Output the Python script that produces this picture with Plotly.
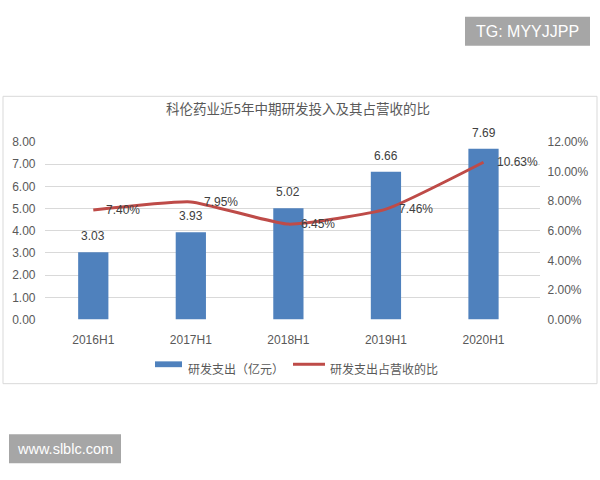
import plotly.graph_objects as go

categories = ["2016H1", "2017H1", "2018H1", "2019H1", "2020H1"]
rd_spend = [3.03, 3.93, 5.02, 6.66, 7.69]
rd_ratio = [7.40, 7.95, 6.45, 7.46, 10.63]
left_ticks = [0, 1, 2, 3, 4, 5, 6, 7, 8]
right_ticks = [0, 2, 4, 6, 8, 10, 12]

title_text = "科伦药业近5年中期研发投入及其占营收的比"
bar_name = "研发支出（亿元）"
line_name = "研发支出占营收的比"

W, H = 600, 480
FONT = "Liberation Sans, Noto Sans CJK SC, sans-serif"
CJK = "Noto Sans CJK SC, Liberation Sans, sans-serif"
GREY = "#595959"
BLUE = "#4f81bd"
RED = "#be4b48"

def px(x):
    return x / W

def py(y):
    return 1 - y / H

fig = go.Figure()
fig.add_trace(go.Bar(
    x=categories, y=rd_spend, name=bar_name,
    marker=dict(color=BLUE, line=dict(width=0)),
    width=0.31, yaxis="y", showlegend=False,
    hoverinfo="x+y",
))
fig.add_trace(go.Scatter(
    x=categories, y=rd_ratio, name=line_name, mode="lines",
    line=dict(color=RED, width=3, shape="spline", smoothing=0.45),
    yaxis="y2", showlegend=False,
))

annotations = []
for c, v in zip(categories, rd_spend):
    annotations.append(dict(
        x=c, y=v, xref="x", yref="y", text=f"{v:.2f}", showarrow=False,
        xanchor="center", yanchor="bottom", yshift=7,
        font=dict(family=FONT, size=12, color="#404040"),
    ))
for c, v in zip(categories, rd_ratio):
    annotations.append(dict(
        x=c, y=v, xref="x", yref="y2", text=f"{v:.2f}%", showarrow=False,
        xanchor="left", yanchor="middle", xshift=11,
        font=dict(family=FONT, size=12, color="#404040"),
    ))

def paper_text(x, y, text, font, xanchor="center"):
    return dict(x=px(x), y=py(y), xref="paper", yref="paper", text=text,
                showarrow=False, xanchor=xanchor, yanchor="middle", font=font)

annotations.append(paper_text(298, 104, title_text, dict(family=CJK, size=13.5, color=GREY)))
annotations.append(paper_text(186, 372, bar_name, dict(family=CJK, size=12, color=GREY), "left"))
annotations.append(paper_text(328, 372, line_name, dict(family=CJK, size=12, color=GREY), "left"))
annotations.append(paper_text(527.5, 25, "TG: MYYJJPP",
                              dict(family="Liberation Sans, sans-serif", size=16, color="white")))
annotations.append(paper_text(65, 455, "www.slblc.com",
                              dict(family="Liberation Sans, sans-serif", size=14.5, color="white")))

shapes = [
    dict(type="rect", xref="paper", yref="paper", x0=px(3), x1=px(597),
         y0=py(92), y1=py(388), line=dict(color="#d9d9d9", width=1),
         fillcolor="rgba(0,0,0,0)", layer="below"),
    dict(type="rect", xref="paper", yref="paper", x0=px(155), x1=px(182),
         y0=py(365), y1=py(371), line=dict(width=0), fillcolor=BLUE),
    dict(type="line", xref="paper", yref="paper", x0=px(293), x1=px(325),
         y0=py(368), y1=py(368), line=dict(color=RED, width=3)),
    dict(type="rect", xref="paper", yref="paper", x0=px(465), x1=px(590),
         y0=py(10), y1=py(40), line=dict(width=0), fillcolor="#a6a6a6"),
    dict(type="rect", xref="paper", yref="paper", x0=px(9), x1=px(121),
         y0=py(440), y1=py(470), line=dict(width=0), fillcolor="#a6a6a6"),
]

fig.update_layout(
    width=W, height=H,
    margin=dict(l=0, r=0, t=0, b=0),
    paper_bgcolor="white", plot_bgcolor="white",
    showlegend=False,
    font=dict(family=FONT, size=12, color=GREY),
    xaxis=dict(
        domain=[px(44.5), px(539.5)], type="category",
        showgrid=False, showline=False, ticks="", zeroline=False,
        tickfont=dict(family=FONT, size=12, color=GREY),
        ticklabelstandoff=11,
    ),
    yaxis=dict(
        domain=[py(322), py(139)], range=[0, 8], tickvals=left_ticks,
        ticktext=[f"{v:.2f}" for v in left_ticks],
        showgrid=True, gridcolor="#d9d9d9", gridwidth=1,
        zeroline=False, showline=False, ticks="",
        tickfont=dict(family=FONT, size=12, color=GREY),
        ticklabelstandoff=8,
    ),
    yaxis2=dict(
        overlaying="y", side="right", range=[0, 12], tickvals=right_ticks,
        ticktext=[f"{v:.2f}%" for v in right_ticks],
        showgrid=False, zeroline=False,
        showline=False, ticks="",
        tickfont=dict(family=FONT, size=12, color=GREY),
        ticklabelstandoff=7,
    ),
    annotations=annotations,
    shapes=shapes,
)

fig.write_html(
    "out.html",
    config={"displayModeBar": False},
    post_script="document.body.style.margin='0';document.body.style.overflow='hidden';",
)
